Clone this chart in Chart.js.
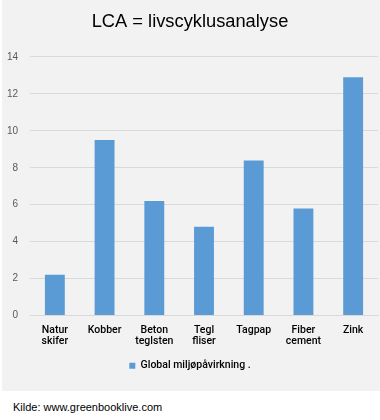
<!DOCTYPE html>
<html><head><meta charset="utf-8">
<script src="https://cdn.jsdelivr.net/npm/chart.js@4"></script>
<style>
html,body{margin:0;padding:0;background:#fff;}
#wrap{position:absolute;left:2px;top:0;width:378px;height:391px;background:#f2f2f2;}
#src{position:absolute;left:13px;top:401px;font:11px "Liberation Sans",Arial,sans-serif;color:#000;}
</style></head><body>
<div id="wrap"><canvas id="c" width="378" height="391"></canvas></div>
<div id="src">Kilde: www.greenbooklive.com</div>
<script>
const categories = [["Natur","skifer"],"Kobber",["Beton","teglsten"],["Tegl","fliser"],"Tagpap",["Fiber","cement"],"Zink"];
const values = [2.2, 9.5, 6.2, 4.8, 8.4, 5.8, 12.9];
const seriesName = "Global miljøpåvirkning .";
const titleText = "LCA = livscyklusanalyse";
const ff = '"Liberation Sans", Arial, sans-serif';
const fm = 'Roboto, "Liberation Sans", Arial, sans-serif';
new Chart(document.getElementById('c'), {
  type: 'bar',
  data: { labels: categories, datasets: [{ label: seriesName, data: values, backgroundColor: '#5b9bd5', categoryPercentage: 1, barPercentage: 0.4 }] },
  options: {
    responsive: false, animation: false,
    layout: { padding: { left: 0, right: 2, top: 7, bottom: 10 } },
    plugins: {
      title: { display: true, text: titleText, color: '#000', font: { family: ff, size: 18.3, weight: 'normal' }, padding: { top: 4, bottom: 24 } },
      legend: { position: 'bottom', labels: { boxWidth: 6, boxHeight: 6, color: '#000', font: { family: fm, size: 10.5, weight: 500 }, padding: 10 } },
      tooltip: { enabled: false }
    },
    scales: {
      y: { min: 0, max: 14, afterFit: s => { s.width = 28; }, ticks: { stepSize: 2, color: '#595959', font: { family: ff, size: 10 }, padding: 12 }, grid: { color: '#d9d9d9', drawTicks: false }, border: { display: false } },
      x: { afterFit: s => { s.height = 35; }, ticks: { color: '#000', font: { family: fm, size: 10.5, weight: 500, lineHeight: 1.05 }, maxRotation: 0, autoSkip: false, padding: 9 }, grid: { display: false, drawTicks: false }, border: { color: '#d9d9d9' } }
    }
  }
});
</script></body></html>
